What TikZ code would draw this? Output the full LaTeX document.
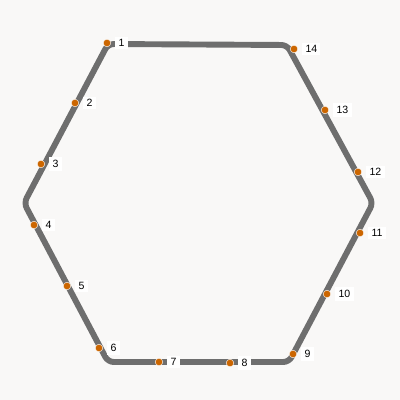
\documentclass[tikz,border=0pt]{standalone}
\usepackage{fontspec}
\setmainfont{Liberation Sans}
\usetikzlibrary{positioning}
\definecolor{edgegray}{HTML}{6E6E6E}
\definecolor{dotorange}{HTML}{CC6600}
\definecolor{paper}{HTML}{F9F8F7}
\tikzset{
  pt/.style={circle, fill=dotorange, draw=white, line width=0.3pt, inner sep=0pt, minimum size=1.9mm},
  lbl/.style={fill=white, inner xsep=2.3pt, inner ysep=2pt, font=\fontsize{7.5}{9}\selectfont}
}
\begin{document}
\begin{tikzpicture}[x=0.025cm, y=-0.025cm]
\fill[paper] (0,0) rectangle (400,400);
\useasboundingbox (0,0) rectangle (400,400);

% hexagon corners
\coordinate (a) at (108,44);
\coordinate (b) at (287,45);
\coordinate (c) at (373,203);
\coordinate (d) at (289,362);
\coordinate (e) at (108,362);
\coordinate (f) at (24,203);

\draw [edgegray, line width=4.2pt, rounded corners=4pt, line join=round] (a) -- (b) -- (c) -- (d) -- (e) -- (f) -- cycle;

% points
\node [pt] (p1) at (107,43) {};
\node [pt] (p2) at (75,103) {};
\node [pt] (p3) at (41,164) {};
\node [pt] (p4) at (34,225) {};
\node [pt] (p5) at (67,286) {};
\node [pt] (p6) at (99,348) {};
\node [pt] (p7) at (159,362) {};
\node [pt] (p8) at (230,363) {};
\node [pt] (p9) at (293,354) {};
\node [pt] (p10) at (327,294) {};
\node [pt] (p11) at (360,233) {};
\node [pt] (p12) at (358,172) {};
\node [pt] (p13) at (325,110) {};
\node [pt] (p14) at (294,49) {};

% labels
\foreach \i in {1,...,14}
  \node [lbl, right=1mm of p\i] (l\i) {\i};
\end{tikzpicture}
\end{document}
